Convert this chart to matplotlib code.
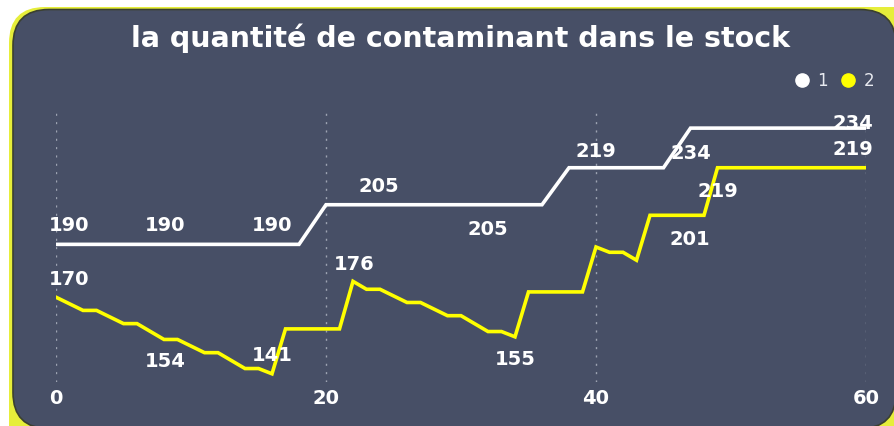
import matplotlib
matplotlib.use("Agg")
import matplotlib.pyplot as plt
from matplotlib.patches import FancyBboxPatch
from matplotlib.lines import Line2D

# ---- data ----
title = "la quantité de contaminant dans le stock"
series_names = ["1", "2"]
x1 = [0, 18, 20, 36, 38, 45, 47, 60]
y1 = [190, 190, 205, 205, 219, 219, 234, 234]
x2 = [0, 2, 3, 5, 6, 8, 9, 11, 12, 14, 15, 16, 17, 21, 22, 23, 24, 26, 27, 29,
      30, 32, 33, 34, 35, 39, 40, 41, 42, 43, 44, 48, 49, 60]
y2 = [170, 165, 165, 160, 160, 154, 154, 149, 149, 143, 143, 141, 158, 158, 176,
      173, 173, 168, 168, 163, 163, 157, 157, 155, 172, 172, 189, 187, 187, 184,
      201, 201, 219, 219]
xticks = [0, 20, 40, 60]
# data labels: (x, value)
labels1 = [(0, 190), (8, 190), (16, 190), (24, 205), (32, 205), (40, 219), (47, 234), (60, 234)]
labels2 = [(0, 170), (8, 154), (16, 141), (22, 176), (34, 155), (47, 201), (49, 219), (60, 219)]

# ---- style ----
W, H, DPI = 895, 426, 100
panel = "#474F66"
yellow_line = "#FFFF00"
border_yellow = "#E6EE3A"

fig = plt.figure(figsize=(W / DPI, H / DPI), dpi=DPI, facecolor="white")

bg = fig.add_axes([0, 0, 1, 1], zorder=-5)
bg.set_xlim(0, W)
bg.set_ylim(H, 0)
bg.axis("off")
bg.add_patch(FancyBboxPatch((9, 7), 930, 460, boxstyle="round,pad=0,rounding_size=36",
                            facecolor=border_yellow, edgecolor="none"))
bg.add_patch(FancyBboxPatch((13, 9.5), 883, 419, boxstyle="round,pad=0,rounding_size=36",
                            facecolor=panel, edgecolor="#3b4030", linewidth=1.2))

def px2pt(p):
    return p * 72.0 / DPI

# main axes in pixel placement
left_px, right_px, top_px, bot_px = 56, 866, 112, 382
ax = fig.add_axes([left_px / W, 1 - bot_px / H, (right_px - left_px) / W, (bot_px - top_px) / H])
ax.set_facecolor("none")
ax.set_xlim(0, 60)
ax.set_ylim(137.9, 240.1)
for s in ax.spines.values():
    s.set_visible(False)
ax.set_yticks([])
ax.set_xticks(xticks)
ax.tick_params(axis="x", length=0, pad=px2pt(7), labelsize=14, labelcolor="white")
for lab in ax.get_xticklabels():
    lab.set_fontweight("bold")
ax.xaxis.grid(True, color="#9DA3B2", linewidth=1.0, linestyle=(0, (1.5, 4.5)))
ax.set_axisbelow(True)

ax.plot(x1, y1, color="white", linewidth=2.6, solid_joinstyle="miter", zorder=3)
ax.plot(x2, y2, color=yellow_line, linewidth=2.6, solid_joinstyle="miter", zorder=3)

# label offsets in pixels (dx, dy up positive)
off1 = [(13, 18.5), (1, 18.5), (0, 18.5), (-1, 18), (0, -24.5), (0, 16), (0, -25.5), (-13, 4.5)]
off2 = [(13, 18), (1, -22), (0, 18), (1, 16.5), (0, -23), (-1, -24), (0, -24), (-13, 18.5)]
for (xv, v), (dx, dy) in zip(labels1, off1):
    ax.annotate(str(v), (xv, v), xytext=(px2pt(dx), px2pt(dy)), textcoords="offset points",
                ha="center", va="center", color="white", fontsize=14, fontweight="bold", zorder=5)
for (xv, v), (dx, dy) in zip(labels2, off2):
    ax.annotate(str(v), (xv, v), xytext=(px2pt(dx), px2pt(dy)), textcoords="offset points",
                ha="center", va="center", color="white", fontsize=14, fontweight="bold", zorder=5)

fig.text(461 / W, 1 - 38 / H, title, ha="center", va="center", color="white",
         fontsize=20.5, fontweight="bold")

handles = [Line2D([], [], marker="o", linestyle="none", markersize=9.5, color="white"),
           Line2D([], [], marker="o", linestyle="none", markersize=9.5, color=yellow_line)]
leg = fig.legend(handles, series_names, loc="center right", bbox_to_anchor=(874 / W, 1 - 81 / H),
                 ncol=2, frameon=False, handletextpad=0.4, columnspacing=0.75, handlelength=1.0,
                 fontsize=12, borderaxespad=0, borderpad=0)
for t in leg.get_texts():
    t.set_color("#E8EAF0")

fig.savefig("out.png", dpi=DPI, facecolor="white")
